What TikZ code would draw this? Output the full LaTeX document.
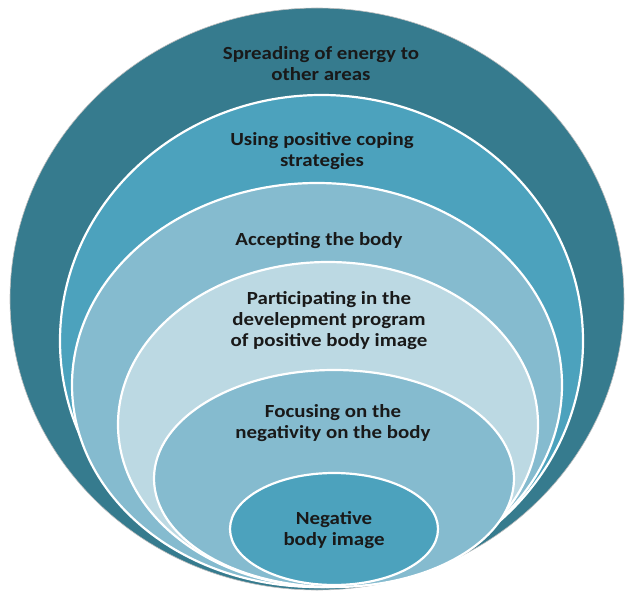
\documentclass[tikz,border=0pt]{standalone}
\usepackage{fontspec}
\usepackage{graphicx}
\setmainfont{Carlito}
\definecolor{cDark}{RGB}{54,123,142}
\definecolor{cMid}{RGB}{76,162,189}
\definecolor{cLight}{RGB}{133,187,207}
\definecolor{cPale}{RGB}{188,217,227}
\newcommand{\lbltext}[1]{\scalebox{1.13}[1]{\begin{tabular}{@{}c@{}}#1\end{tabular}}}
\tikzset{
  ring/.style={draw=white, line width=2.2pt},
  label/.style={align=center, font=\bfseries\fontsize{18.5}{21}\selectfont, text=black!90, inner sep=0pt}
}
\begin{document}
\begin{tikzpicture}[x=1pt,y=-1pt]
\useasboundingbox (0,0) rectangle (626,591);
% outer
\fill[cDark] (317,299) ellipse [x radius=307, y radius=291];
\draw[black!25, line width=0.6pt] (317,299) ellipse [x radius=307, y radius=291];
\filldraw[ring, fill=cMid] (321.5,341) ellipse [x radius=261.5, y radius=246];
\filldraw[ring, fill=cLight] (317,385) ellipse [x radius=245, y radius=202];
\filldraw[ring, fill=cPale] (328,424.5) ellipse [x radius=210, y radius=162.5];
\filldraw[ring, fill=cLight] (334,478.5) ellipse [x radius=180, y radius=108.5];
\filldraw[ring, fill=cMid] (334,529) ellipse [x radius=104, y radius=56];
% labels
\node[label] (l1) at (321,66) {\lbltext{Spreading of energy to\\other areas}};
\node[label] (l2) at (322,152) {\lbltext{Using positive coping\\strategies}};
\node[label] (l3) at (319,241) {\lbltext{Accepting the body}};
\node[label] (l4) at (329,321) {\lbltext{Participating in the\\develepment program\\of positive body image}};
\node[label] (l5) at (333,424) {\lbltext{Focusing on the\\negativity on the body}};
\node[label] (l6) at (334,531) {\lbltext{Negative\\body image}};
\end{tikzpicture}
\end{document}
